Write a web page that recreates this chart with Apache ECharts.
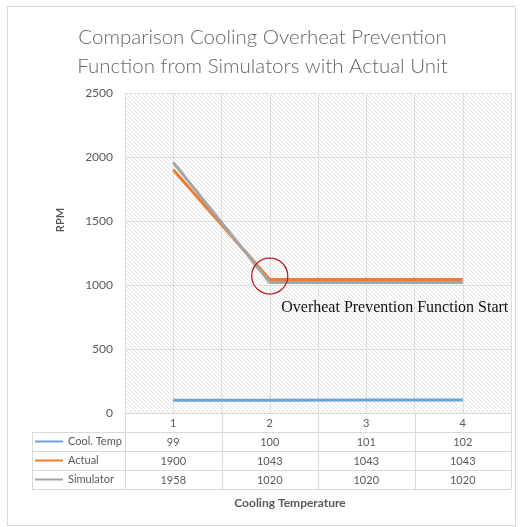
<!DOCTYPE html>
<html>
<head>
<meta charset="utf-8">
<script src="https://cdn.jsdelivr.net/npm/echarts@6/dist/echarts.min.js"></script>
<style>
  html, body { margin: 0; padding: 0; background: #fff; }
  #container { width: 525px; height: 527px; }
</style>
</head>
<body>
<div id="container"></div>
<script>
// chart data
const categories = [1, 2, 3, 4];
const coolTemp = [99, 100, 101, 102];
const actual = [1900, 1043, 1043, 1043];
const simulator = [1958, 1020, 1020, 1020];
const seriesNames = ['Cool. Temp', 'Actual', 'Simulator'];
const yTicks = [0, 500, 1000, 1500, 2000, 2500];

// layout
const plotLeft = 125, plotRight = 511, plotTop = 93, plotBottom = 413;
const rowH = 19;
const tableLeft = 32;
const lineGrey = '#d9d9d9';
const textGrey = '#595959';

/*
 * diagonal hatch used as plot area background
 */
function makeHatch() {
    const c = document.createElement('canvas');
    c.width = 4; c.height = 4;
    const ctx = c.getContext('2d');
    ctx.fillStyle = '#ffffff';
    ctx.fillRect(0, 0, 4, 4);
    ctx.strokeStyle = '#e2e2e2';
    ctx.lineWidth = 1;
    ctx.beginPath();
    ctx.moveTo(-1, -1); ctx.lineTo(5, 5);
    ctx.moveTo(-1, 3); ctx.lineTo(1, 5);
    ctx.moveTo(3, -1); ctx.lineTo(5, 1);
    ctx.stroke();
    return c;
}

const dom = document.getElementById('container');
const myChart = echarts.init(dom);

const colCount = categories.length;
const colW = (plotRight - plotLeft) / colCount;

// table borders
const tableLines = [];
function hLine(x1, x2, y) {
    tableLines.push({ type: 'line', shape: { x1: x1, y1: y, x2: x2, y2: y }, style: { stroke: lineGrey, lineWidth: 1 }, silent: true });
}
function vLine(x, y1, y2) {
    tableLines.push({ type: 'line', shape: { x1: x, y1: y1, x2: x, y2: y2 }, style: { stroke: lineGrey, lineWidth: 1 }, silent: true });
}
for (let r = 1; r <= seriesNames.length + 1; r++) {
    hLine(tableLeft, plotRight, plotBottom + r * rowH + 0.5);
}
for (let c = 0; c <= colCount; c++) {
    vLine(Math.round(plotLeft + c * colW) + 0.5, plotBottom, plotBottom + (seriesNames.length + 1) * rowH);
}
vLine(tableLeft + 0.5, plotBottom + rowH, plotBottom + (seriesNames.length + 1) * rowH);

const toPairs = arr => arr.map((v, i) => [categories[i], v]);

const option = {
    backgroundColor: '#fff',
    animation: false,
    title: {
        text: 'Comparison Cooling Overheat Prevention\nFunction from Simulators with Actual Unit',
        left: 'center',
        top: 18,
        textStyle: {
            fontFamily: 'Lato',
            fontWeight: 300,
            fontSize: 20.5,
            lineHeight: 29,
            color: '#666666'
        }
    },
    legend: {
        orient: 'vertical',
        left: 35,
        top: plotBottom + rowH,
        padding: 0,
        itemGap: 0,
        itemWidth: 28,
        itemHeight: 2,
        icon: 'rect',
        selectedMode: false,
        data: seriesNames,
        textStyle: { fontFamily: 'Lato', fontSize: 11, lineHeight: rowH, color: textGrey }
    },
    grid: {
        left: plotLeft,
        right: 525 - plotRight,
        top: plotTop,
        bottom: 527 - plotBottom,
        show: true,
        borderWidth: 0,
        backgroundColor: { image: makeHatch(), repeat: 'repeat' }
    },
    xAxis: {
        type: 'value',
        min: 0.5,
        max: 4.5,
        interval: 0.5,
        axisLine: { show: true, lineStyle: { color: lineGrey } },
        axisTick: { show: false },
        splitLine: { show: true, lineStyle: { color: '#dedede' } },
        axisLabel: {
            margin: 1,
            fontFamily: 'Lato',
            fontSize: 11,
            lineHeight: rowH,
            color: textGrey,
            showMinLabel: true,
            showMaxLabel: true,
            formatter: function (v) {
                const i = categories.indexOf(v);
                if (i < 0) return '';
                return [categories[i], coolTemp[i], actual[i], simulator[i]].join('\n');
            }
        }
    },
    yAxis: {
        type: 'value',
        min: yTicks[0],
        max: yTicks[yTicks.length - 1],
        interval: yTicks[1] - yTicks[0],
        axisLine: { show: false },
        axisTick: { show: false },
        splitLine: { show: true, lineStyle: { color: '#dedede' } },
        axisLabel: {
            margin: 12, fontFamily: 'Lato', fontSize: 12, color: textGrey,
            formatter: v => String(v)
        }
    },
    graphic: tableLines.concat([
        {
            type: 'rect',
            shape: { x: 7.5, y: 6.5, width: 508, height: 519 },
            style: { fill: 'none', stroke: lineGrey, lineWidth: 1 },
            silent: true
        },
        {
            type: 'text',
            x: 290, y: 503,
            style: {
                text: 'Cooling Temperature', align: 'center', verticalAlign: 'middle',
                fontFamily: 'Lato', fontWeight: 'bold', fontSize: 12, fill: textGrey
            }
        },
        {
            type: 'text',
            x: 60, y: 220,
            rotation: Math.PI / 2,
            style: {
                text: 'RPM', align: 'center', verticalAlign: 'middle',
                fontFamily: 'Lato', fontWeight: 'bold', fontSize: 11, fill: textGrey
            }
        }
    ]),
    series: [
        {
            name: seriesNames[0],
            type: 'line',
            symbol: 'none',
            data: toPairs(coolTemp),
            lineStyle: { width: 3, color: '#6aa3d8' },
            itemStyle: { color: '#6aa3d8' }
        },
        {
            name: seriesNames[1],
            type: 'line',
            symbol: 'none',
            data: toPairs(actual),
            lineStyle: { width: 3, color: '#ed7d31' },
            itemStyle: { color: '#ed7d31' },
            markPoint: {
                silent: true,
                data: [
                    {
                        coord: [2, 1070],
                        symbol: 'circle',
                        symbolSize: 36,
                        itemStyle: { color: 'rgba(0,0,0,0)', borderColor: '#b8242b', borderWidth: 1.3 },
                        label: { show: false }
                    },
                    {
                        coord: [2, 820],
                        symbol: 'circle',
                        symbolSize: 1,
                        itemStyle: { color: 'rgba(0,0,0,0)' },
                        label: {
                            show: true,
                            position: 'right',
                            distance: 11,
                            formatter: 'Overheat Prevention Function Start',
                            fontFamily: 'Liberation Serif',
                            fontSize: 16,
                            color: '#111'
                        }
                    }
                ]
            }
        },
        {
            name: seriesNames[2],
            type: 'line',
            symbol: 'none',
            data: toPairs(simulator),
            lineStyle: { width: 3, color: '#a5a5a5' },
            itemStyle: { color: '#a5a5a5' }
        }
    ]
};

myChart.setOption(option);
</script>
</body>
</html>
